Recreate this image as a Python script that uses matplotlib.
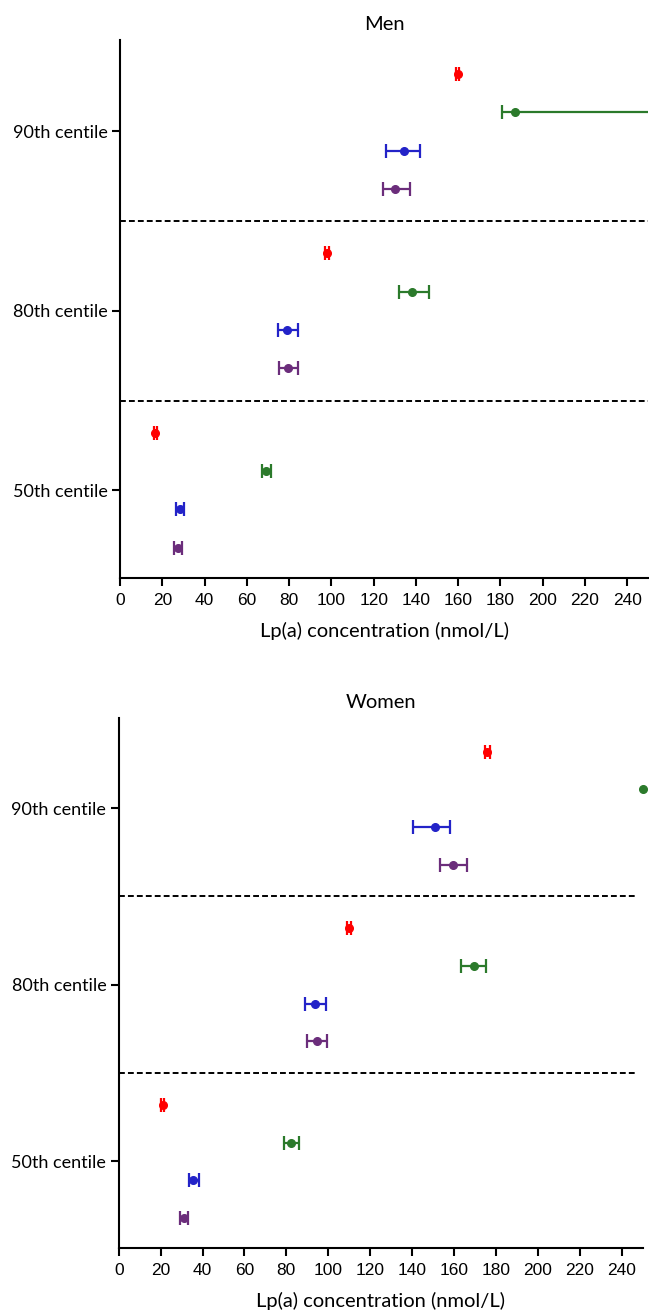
import numpy as np
import matplotlib.pyplot as plt

# datos (nmol/L)
centiles = ['50th centile', '80th centile', '90th centile']
series_colors = ['#ff0000', '#2b7a2b', '#2323c8', '#6b2d7b']

men_val = [[16.7, 98.0, 159.7],
           [69.2, 138.3, 187.0],
           [28.3, 78.8, 134.5],
           [27.3, 79.7, 130.3]]
men_low = [[16.0, 97.0, 158.8],
           [67.2, 132.0, 180.8],
           [26.3, 74.7, 126.0],
           [25.3, 75.3, 124.5]]
men_high = [[17.4, 99.0, 160.6],
            [71.2, 146.0, 300.0],
            [30.3, 84.3, 142.0],
            [29.3, 84.2, 137.0]]

women_val = [[20.9, 110.0, 176.0],
             [82.4, 169.6, 250.0],
             [35.6, 93.8, 151.0],
             [30.9, 94.8, 159.7]]
women_low = [[20.2, 109.0, 175.0],
             [79.1, 163.5, np.nan],
             [33.6, 89.1, 140.6],
             [29.3, 90.0, 153.3]]
women_high = [[21.6, 111.0, 177.0],
              [86.1, 175.4, np.nan],
              [38.1, 98.8, 158.2],
              [33.1, 99.2, 166.0]]

offsets = [0.32, 0.107, -0.107, -0.32]
x_ticks = list(range(0, 241, 20))

label_font = 'Lato'
tick_font = 'Liberation Sans'


def dibujar(ax, titulo, val, low, high, dash_end):
    for k, color in enumerate(series_colors):
        y = np.arange(len(centiles)) + offsets[k]
        v = np.array(val[k])
        lo = np.array(low[k])
        hi = np.array(high[k])
        ok = ~np.isnan(lo)
        ax.errorbar(v[ok], y[ok], xerr=[v[ok] - lo[ok], hi[ok] - v[ok]],
                    fmt='none', ecolor=color, elinewidth=1.6,
                    capsize=5, capthick=1.6)
        ax.plot(v, y, 'o', color=color, markersize=5.5, clip_on=False, zorder=3)
    for yl in [0.5, 1.5]:
        ax.axhline(yl, color='black', lw=1.4, ls=(0, (3, 1.6)), xmax=dash_end)
    ax.set_xlim(0, 250)
    ax.set_ylim(-0.49, 2.51)
    ax.set_xticks(x_ticks)
    ax.set_xticklabels([str(t) for t in x_ticks], family=tick_font, fontsize=12.5)
    ax.set_yticks(range(len(centiles)))
    ax.set_yticklabels(centiles, family=label_font, fontsize=13)
    ax.spines['top'].set_visible(False)
    ax.spines['right'].set_visible(False)
    ax.spines['left'].set_linewidth(1.5)
    ax.spines['bottom'].set_linewidth(1.5)
    ax.tick_params(width=1.5, length=6)
    ax.tick_params(axis='x', pad=5)
    ax.tick_params(axis='y', pad=3)
    ax.set_xlabel('Lp(a) concentration (nmol/L)', family=label_font,
                  fontsize=14.5, labelpad=10)
    ax.set_title(titulo, family=label_font, fontsize=14.5, pad=7)


fig = plt.figure(figsize=(6.49, 13.11), dpi=100)
ax1 = fig.add_axes([0.185, 0.559, 0.814, 0.4105])
ax2 = fig.add_axes([0.183, 0.048, 0.807, 0.4043])

dibujar(ax1, 'Men', men_val, men_low, men_high, 1.0)
dibujar(ax2, 'Women', women_val, women_low, women_high, 0.99)

plt.savefig('out.png', dpi=100)
